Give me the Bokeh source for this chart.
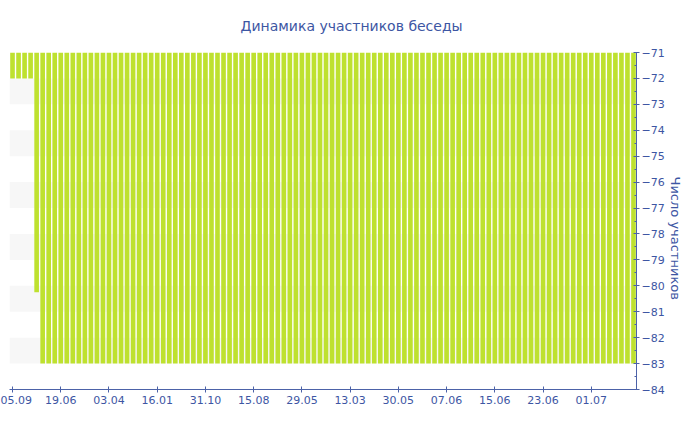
from bokeh.plotting import figure
from bokeh.models import Range1d, FixedTicker, Title
from bokeh.embed import file_html
from bokeh.resources import INLINE

title_text = "Динамика участников беседы"
y_label = "Число участников"

# participant count per day (negative values as in the source chart)
values = [
    -72, -72, -72, -72, -80.25, -83, -83, -83, -83, -83,
    -83, -83, -83, -83, -83, -83, -83, -83, -83, -83,
    -83, -83, -83, -83, -83, -83, -83, -83, -83, -83,
    -83, -83, -83, -83, -83, -83, -83, -83, -83, -83,
    -83, -83, -83, -83, -83, -83, -83, -83, -83, -83,
    -83, -83, -83, -83, -83, -83, -83, -83, -83, -83,
    -83, -83, -83, -83, -83, -83, -83, -83, -83, -83,
    -83, -83, -83, -83, -83, -83, -83, -83, -83, -83,
    -83, -83, -83, -83, -83, -83, -83, -83, -83, -83,
    -83, -83, -83, -83, -83, -83, -83, -83, -83, -83,
    -83, -83, -83, -83,
]
tick_labels = ["05.09", "19.06", "03.04", "16.01", "31.10", "15.08", "29.05",
               "13.03", "30.05", "07.06", "15.06", "23.06", "01.07"]
y_ticks = [-84, -83, -82, -81, -80, -79, -78, -77, -76, -75, -74, -73, -72, -71]
band_ticks = [-83, -82, -81, -80, -79, -78, -77, -76, -75, -74, -73, -72]

FONT = "DejaVu Sans"
BLUE = "#3d56a3"
AXIS = "#4c62a8"
BAR = "#bee12f"

n = len(values)
xs = list(range(n))
tick_step = 8
tick_pos = list(range(0, n, tick_step))[:len(tick_labels)]

p = figure(width=684, height=414, output_backend="svg", toolbar_location=None,
           x_range=Range1d(-0.5, n - 0.5), y_range=Range1d(min(y_ticks), max(y_ticks)),
           y_axis_location="right", min_border_left=9, min_border_right=38,
           min_border_top=51, min_border_bottom=25)
p.outline_line_color = None
p.background_fill_color = "white"
p.border_fill_color = "white"

p.title.text = title_text
p.title.align = "left"
p.title.offset = 231
p.title.text_font = FONT
p.title.text_font_size = "14px"
p.title.text_font_style = "normal"
p.title.text_color = BLUE
p.title.vertical_align = "top"
p.title.standoff = 34

p.xgrid.grid_line_color = None
p.ygrid.grid_line_color = None
p.ygrid.ticker = FixedTicker(ticks=band_ticks)
p.ygrid.band_fill_color = "#f7f7f7"
p.ygrid.band_fill_alpha = 1.0

p.vbar(x=xs, bottom=values, top=0, width=0.77, fill_color=BAR, line_color=None)

xa = p.xaxis[0]
xa.ticker = FixedTicker(ticks=tick_pos)
xa.major_label_overrides = {pos: lab for pos, lab in zip(tick_pos, tick_labels)}
xa.axis_line_color = AXIS
xa.major_tick_line_color = AXIS
xa.major_tick_in = 3
xa.major_tick_out = 3
xa.minor_tick_line_color = None
xa.major_label_text_color = BLUE
xa.major_label_text_font = FONT
xa.major_label_text_font_size = "11px"
xa.major_label_standoff = 3

ya = p.yaxis[0]
ya.ticker = FixedTicker(ticks=y_ticks, minor_ticks=[t + 0.5 for t in y_ticks[:-1]])
ya.axis_line_color = AXIS
ya.major_tick_line_color = AXIS
ya.minor_tick_line_color = AXIS
ya.major_tick_in = 3
ya.major_tick_out = 3
ya.minor_tick_in = 2
ya.minor_tick_out = 0
ya.major_label_text_color = BLUE
ya.major_label_text_font = FONT
ya.major_label_text_font_size = "11px"
ya.major_label_standoff = 2

axis_title = Title(text=y_label, align="left", offset=124, standoff=0,
                   text_font=FONT, text_font_size="13px", text_font_style="normal",
                   text_color=BLUE)
p.add_layout(axis_title, "right")

open("out.html", "w").write(file_html(p, INLINE))
